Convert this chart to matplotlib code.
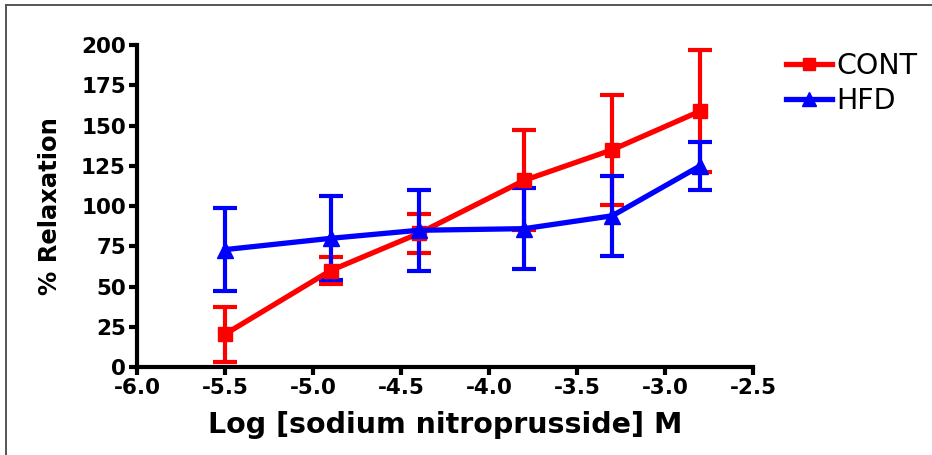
import matplotlib.pyplot as plt
from matplotlib.lines import Line2D

# log concentration of sodium nitroprusside (M)
log_conc = [-5.5, -4.9, -4.4, -3.8, -3.3, -2.8]

cont_mean = [20.5, 60, 83, 116, 135, 159]
cont_err = [17, 8.5, 12, 31, 34, 38]

hfd_mean = [73, 80, 85, 86, 94, 125]
hfd_err = [26, 26, 25, 25, 25, 15]

x_ticks = [-6.0, -5.5, -5.0, -4.5, -4.0, -3.5, -3.0, -2.5]
y_ticks = [0, 25, 50, 75, 100, 125, 150, 175, 200]

plt.rcParams["font.family"] = ["DejaVu Sans"]

fig = plt.figure(figsize=(9.32, 4.55), dpi=100)
ax = fig.add_axes([0.147, 0.193, 0.661, 0.708])

style = dict(lw=3.8, elinewidth=3, capsize=8.5, capthick=3, clip_on=False)
c1 = ax.errorbar(log_conc, cont_mean, yerr=cont_err, color="#ff0000",
                 marker="s", markersize=10, **style)
c2 = ax.errorbar(log_conc, hfd_mean, yerr=hfd_err, color="#0000ff",
                 marker="^", markersize=11, **style)

ax.set_xlim(-6.0, -2.5)
ax.set_ylim(0, 200)
ax.set_xticks(x_ticks)
ax.set_xticklabels([f"{t:.1f}" for t in x_ticks])
ax.set_yticks(y_ticks)

for side in ["top", "right"]:
    ax.spines[side].set_visible(False)
for side in ["left", "bottom"]:
    ax.spines[side].set_linewidth(3)
ax.tick_params(width=3, length=6, labelsize=15.5, pad=2)
for lab in ax.get_xticklabels() + ax.get_yticklabels():
    lab.set_fontweight("bold")

ax.set_xlabel("Log [sodium nitroprusside] M", fontsize=20.5, fontweight="bold",
              labelpad=9)
ax.set_ylabel("% Relaxation", fontsize=17.5, fontweight="bold", labelpad=14)

fig.legend([c1[0], c2[0]], ["CONT", "HFD"], loc="upper left",
           bbox_to_anchor=(0.816, 0.943), frameon=False, fontsize=20.5,
           handlelength=1.6, handletextpad=0.15, labelspacing=0.25,
           markerscale=0.9)

# thin border as in the reference screenshot
fig.add_artist(Line2D([0.0065, 1.0], [0.989, 0.989], color="#555555", lw=1.4))
fig.add_artist(Line2D([0.0065, 0.0065], [0.0, 0.989], color="#555555", lw=1.4))

fig.savefig("out.png", dpi=100)
